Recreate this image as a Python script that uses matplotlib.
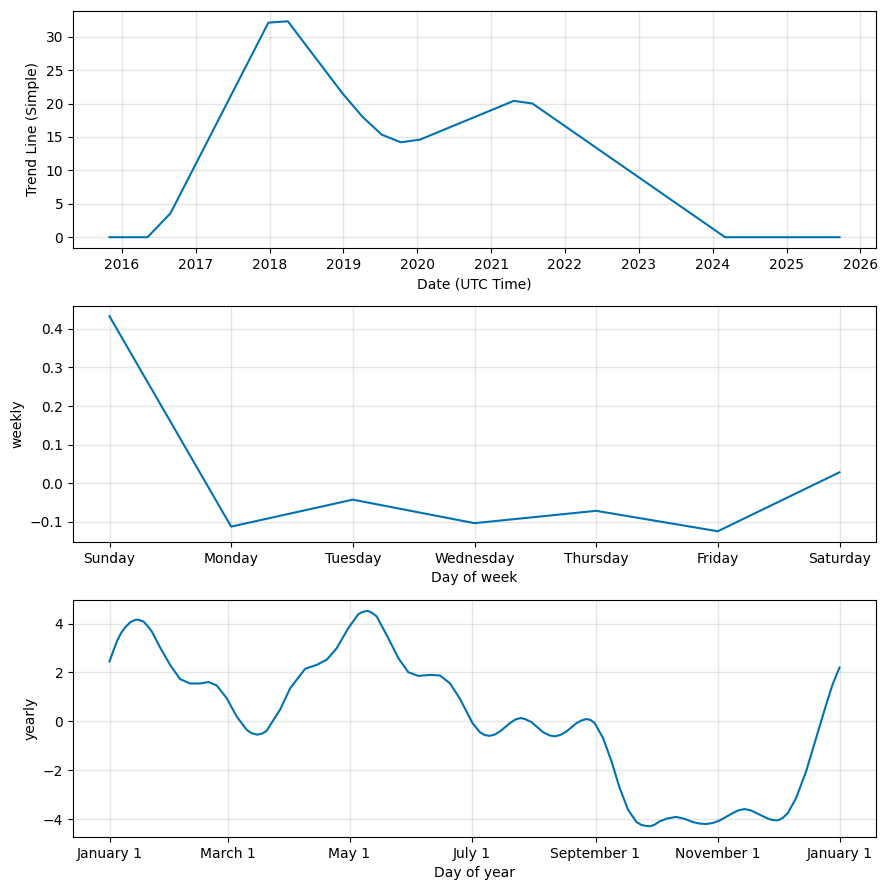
import matplotlib
matplotlib.use("Agg")
import matplotlib.pyplot as plt
import matplotlib.dates as mdates
import numpy as np
import pandas as pd

# ---- Trend data ----
trend_dates = ["2015-11-01", "2016-05-07", "2016-08-28", "2017-12-26", "2018-04-01",
               "2018-12-28", "2019-04-06", "2019-07-09", "2019-10-12", "2020-01-15",
               "2021-04-23", "2021-07-24", "2024-03-03", "2025-09-20"]
trend_values = [0.0, 0.0, 3.55, 32.1, 32.3,
                21.5, 18.0, 15.35, 14.2, 14.6,
                20.4, 20.0, 0.0, 0.0]

# ---- Weekly data ----
week_days = ["Sunday", "Monday", "Tuesday", "Wednesday", "Thursday", "Friday", "Saturday"]
weekly_values = [0.433, -0.113, -0.043, -0.104, -0.072, -0.125, 0.028]

# ---- Yearly data (day of year offset, value) ----
year_days = [0, 2, 3.7, 5.7, 7.8, 10.5, 13.3, 15, 17, 19, 21.2, 25.3, 30.3, 35.3, 40.3,
             45.3, 49.5, 53.6, 58.6, 63.6, 68.6, 71, 73.9, 76.5, 78.6, 83.6, 85.3, 90.3,
             97.8, 103.6, 108.6, 113.6, 119.4, 124.4, 126.5, 128.9, 131, 133.6, 138.5,
             144.4, 149.4, 154.4, 160.2, 165.2, 170.2, 175.2, 180.2, 181.5, 185.2, 187.5,
             189.9, 192.5, 195.2, 200.2, 203, 205.6, 208, 211, 216.8, 220, 222.6, 225.5,
             228.5, 233.5, 236, 238.5, 240.5, 242.6, 246.8, 251, 255.1, 259.3, 263.5, 266,
             268.5, 270.5, 272.5, 275.1, 279, 283.4, 287.5, 291.7, 295, 298.4, 301.5, 305,
             311.7, 314.5, 317.5, 320.5, 323.4, 329.2, 331.7, 334.2, 336.5, 339.2, 343.3,
             348.3, 353.3, 358.3, 361.5, 365]
yearly_values = [2.45, 2.9, 3.27, 3.6, 3.84, 4.06, 4.16, 4.14, 4.08, 3.9, 3.67, 3.02, 2.31,
                 1.73, 1.55, 1.55, 1.61, 1.47, 0.95, 0.20, -0.34, -0.48, -0.54, -0.49, -0.38,
                 0.27, 0.48, 1.35, 2.15, 2.31, 2.52, 2.99, 3.81, 4.38, 4.47, 4.52, 4.45, 4.29,
                 3.54, 2.59, 2.01, 1.86, 1.90, 1.88, 1.56, 0.93, 0.14, -0.07, -0.44, -0.55,
                 -0.59, -0.54, -0.41, -0.07, 0.08, 0.14, 0.09, -0.03, -0.44, -0.57, -0.61,
                 -0.55, -0.41, -0.07, 0.04, 0.10, 0.06, -0.07, -0.68, -1.63, -2.72, -3.61,
                 -4.11, -4.23, -4.27, -4.28, -4.22, -4.08, -3.96, -3.90, -3.98, -4.11, -4.17,
                 -4.19, -4.15, -4.05, -3.74, -3.63, -3.58, -3.63, -3.74, -3.97, -4.03, -4.04,
                 -3.95, -3.74, -3.13, -2.04, -0.68, 0.68, 1.5, 2.20]

color = "#0072B2"
W, H = 888, 890
fig = plt.figure(figsize=(W / 100, H / 100), dpi=100)

left = 73 / W
width = (876 - 73) / W
def axpos(top, bottom):
    return [left, 1 - bottom / H, width, (bottom - top) / H]

ax1 = fig.add_axes(axpos(10.5, 248))
ax2 = fig.add_axes(axpos(305.5, 542))
ax3 = fig.add_axes(axpos(600, 837))

def grid(ax):
    ax.grid(True, which="major", c="gray", ls="-", lw=1, alpha=0.2)
    ax.set_axisbelow(True)

# Trend
ax1.plot(pd.to_datetime(trend_dates), trend_values, ls="-", c=color)
ax1.xaxis.set_major_locator(mdates.YearLocator())
ax1.xaxis.set_major_formatter(mdates.DateFormatter("%Y"))
ax1.set_xlabel("Date (UTC Time)")
ax1.set_ylabel("Trend Line (Simple)")
grid(ax1)

# Weekly
xw = np.arange(len(week_days))
ax2.plot(xw, weekly_values, ls="-", c=color)
ax2.set_xticks(xw)
ax2.set_xticklabels(week_days)
ax2.set_xlabel("Day of week")
ax2.set_ylabel("weekly")
grid(ax2)

# Yearly
ydates = pd.Timestamp("2017-01-01") + pd.to_timedelta(year_days, unit="D")
ax3.plot(ydates, yearly_values, ls="-", c=color)
ax3.xaxis.set_major_locator(mdates.MonthLocator(bymonth=[1, 3, 5, 7, 9, 11]))
ax3.xaxis.set_major_formatter(
    matplotlib.ticker.FuncFormatter(lambda x, pos=None: "{dt:%B} {dt.day}".format(dt=mdates.num2date(x))))
ax3.set_xlabel("Day of year")
ax3.set_ylabel("yearly")
grid(ax3)

fig.savefig("out.png", dpi=100)
